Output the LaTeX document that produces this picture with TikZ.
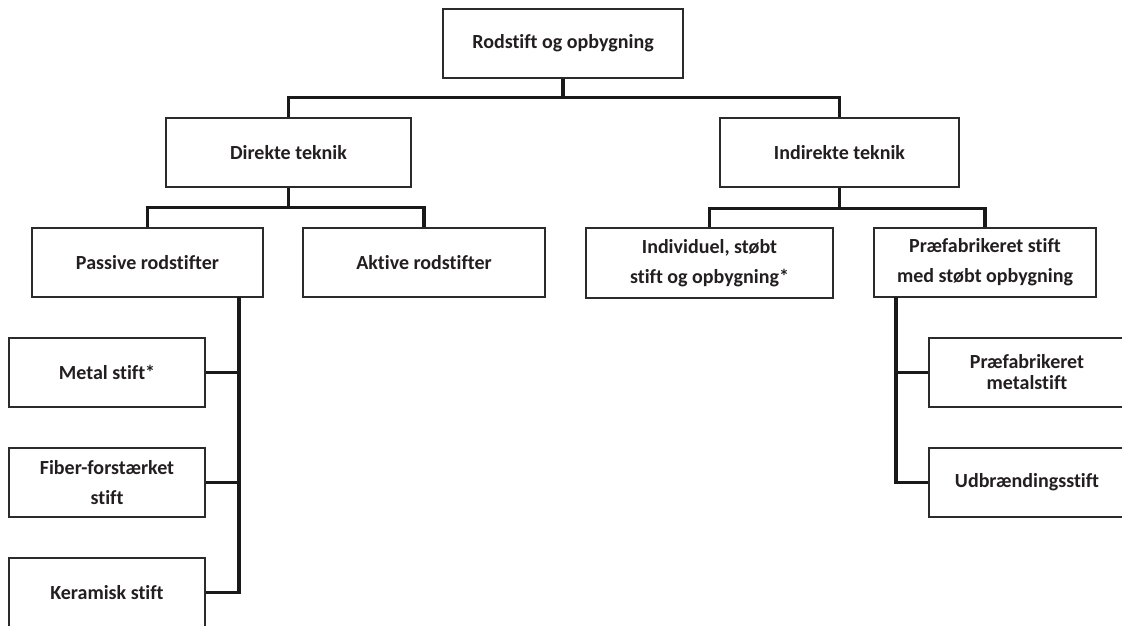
\documentclass[tikz,border=0pt]{standalone}
\usepackage{fontspec}
\setmainfont{Carlito}[Ligatures={NoCommon}]
\definecolor{txt}{HTML}{231F20}
\definecolor{bord}{HTML}{2B2B2B}
\tikzset{
  box/.style={draw=bord, line width=1.4pt, fill=white, text=txt, align=center,
    inner sep=0pt, minimum height=69pt,
    font=\fontsize{20}{30}\selectfont\bfseries},
  tight/.style={font=\fontsize{20}{21}\selectfont\bfseries},
  conn/.style={draw=black!90, line width=3.1pt}
}
\begin{document}
\begin{tikzpicture}[x=1pt,y=-1pt]
\clip (0,0) rectangle (1122,625);
\fill[white] (0,0) rectangle (1122,625);
% level 0
\node[box, minimum width=240pt] (root) at (563,43.5) {Rodstift og opbygning};
% level 1
\node[box, minimum width=245pt] (direkte) at (288.5,152.5) {Direkte teknik};
\node[box, minimum width=239pt] (indirekte) at (839.5,152.5) {Indirekte teknik};
% level 2
\node[box, minimum width=231pt] (passive) at (147.5,262.5) {Passive rodstifter};
\node[box, minimum width=242pt] (aktive) at (424,262.5) {Aktive rodstifter};
\node[box, minimum width=247pt, minimum height=70pt] (individuel) at (709.5,263) {Individuel, støbt\\stift og opbygning*};
\node[box, minimum width=222pt] (praefab) at (985,262.5) {Præfabrikeret stift\\med støbt opbygning};
% level 3 left
\node[box, minimum width=196pt] (metal) at (107,372.5) {Metal stift*};
\node[box, minimum width=196pt] (fiber) at (107,482.5) {Fiber-forstærket\\stift};
\node[box, minimum width=196pt] (keramisk) at (107,592.5) {Keramisk stift};
% level 3 right
\node[box, tight, minimum width=196pt] (praefmetal) at (1027,372.5) {Præfabrikeret\\metalstift};
\node[box, minimum width=196pt] (udbr) at (1027,482.5) {Udbrændingsstift};
% spine coordinates
\coordinate (ps) at (239,297);
\coordinate (pf) at (896,297);
% connectors
\draw[conn] (root.south) -- ++(0,19) -| (direkte.north);
\draw[conn] (root.south) -- ++(0,19) -| (indirekte.north);
\draw[conn] (direkte.south) -- ++(0,20) -| (passive.north);
\draw[conn] (direkte.south) -- ++(0,20) -| (aktive.north);
\draw[conn] (indirekte.south) -- ++(0,21) -| (individuel.north);
\draw[conn] (indirekte.south) -- ++(0,21) -| (praefab.north);
\draw[conn] (metal.east) -| (ps);
\draw[conn] (fiber.east) -| (ps);
\draw[conn] (keramisk.east) -| (ps);
\draw[conn] (praefmetal.west) -| (pf);
\draw[conn] (udbr.west) -| (pf);
\end{tikzpicture}
\end{document}
